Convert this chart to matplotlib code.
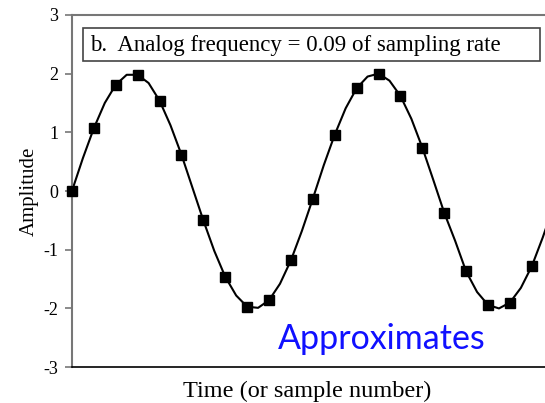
import numpy as np
import matplotlib
matplotlib.use("Agg")
import matplotlib.pyplot as plt
from matplotlib.patches import Rectangle

sample_n = list(range(22))
sample_vals = [0.00, 1.07, 1.81, 1.98, 1.54, 0.62, -0.50, -1.46, -1.97, -1.86, -1.18,
               -0.13, 0.96, 1.75, 2.00, 1.62, 0.74, -0.37, -1.37, -1.94, -1.90, -1.28]

# analog curve, read at half-sample steps
analog_t = [i * 0.5 for i in range(45)]
analog_vals = [0.00, 0.56, 1.07, 1.50, 1.81, 1.98, 1.98, 1.84, 1.54, 1.12, 0.62,
               0.06, -0.50, -1.02, -1.46, -1.78, -1.97, -1.99, -1.86, -1.58, -1.18,
               -0.68, -0.13, 0.44, 0.96, 1.41, 1.75, 1.95, 2.00, 1.88, 1.62, 1.23,
               0.74, 0.19, -0.37, -0.85, -1.37, -1.72, -1.94, -2.00, -1.90, -1.65,
               -1.28, -0.79, -0.25]

y_ticks = [-3, -2, -1, 0, 1, 2, 3]
y_tick_labels = ["-3", "-2", "-1", "0", "1", "2", "3"]

plt.rcParams['font.family'] = ['Liberation Serif', 'DejaVu Serif']

fig = plt.figure(figsize=(5.45, 4.03), dpi=100)
ax = fig.add_axes([0.132, 0.089, 0.884, 0.874])

ax.plot(analog_t, analog_vals, color='black', lw=1.5, zorder=2, solid_joinstyle='round')
ax.plot(sample_n, sample_vals, 's', color='black', ms=6.5, zorder=3, clip_on=False)

ax.set_xlim(0, 22)
ax.set_ylim(-3, 3)
ax.set_xticks([])
ax.set_yticks(y_ticks)
ax.set_yticklabels(y_tick_labels, fontsize=13)
ax.tick_params(axis='y', direction='out', length=5, width=1.2, color='#777777', pad=5)

ax.spines['left'].set_color('#777777')
ax.spines['left'].set_linewidth(1.5)
ax.spines['top'].set_color('#777777')
ax.spines['top'].set_linewidth(1.5)
ax.spines['bottom'].set_color('black')
ax.spines['bottom'].set_linewidth(1.2)
ax.spines['right'].set_visible(False)

ax.set_ylabel("Amplitude", fontsize=15, labelpad=3)
ax.set_xlabel("Time (or sample number)", fontsize=17.5)
ax.xaxis.set_label_coords((307 - 72) / 482, (367 - 397) / 352)
ax.xaxis.label.set_verticalalignment('baseline')

# label box
ax.add_patch(Rectangle((0.0228, 0.869), 0.948, 0.094, transform=ax.transAxes,
                       fc='white', ec='#444444', lw=1.2, zorder=4))
ax.text(0.0373, 0.914, "b.  Analog frequency = 0.09 of sampling rate", fontsize=16.5,
        va='center', ha='left', transform=ax.transAxes, zorder=5)

fig.text(382 / 545, 1 - 349 / 403, "Approximates", color='#1010ff', fontsize=24.5,
         family='Lato', ha='center', va='baseline')

fig.savefig("out.png", dpi=100)
